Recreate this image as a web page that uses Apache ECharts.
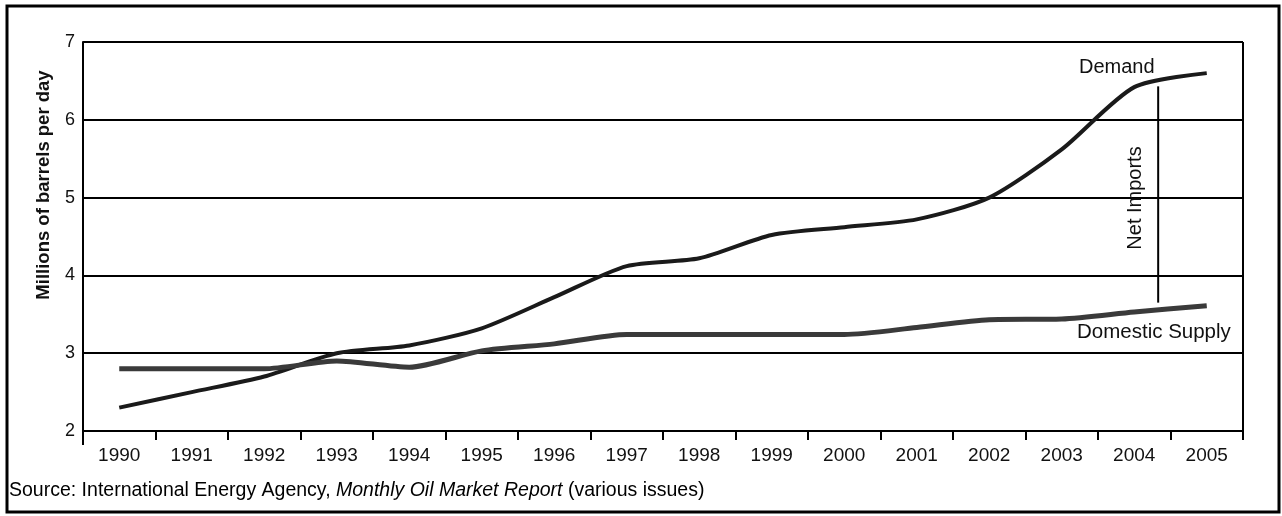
<!DOCTYPE html>
<html><head><meta charset="utf-8">
<script src="https://cdn.jsdelivr.net/npm/echarts@6/dist/echarts.min.js"></script>
<style>html,body{margin:0;padding:0;background:#fff}#c{width:1282px;height:516px}</style>
</head><body><div id="c"></div>
<script>
const years = ['1990','1991','1992','1993','1994','1995','1996','1997','1998','1999','2000','2001','2002','2003','2004','2005'];
const demand = [2.3, 2.5, 2.7, 3.0, 3.1, 3.32, 3.72, 4.12, 4.22, 4.52, 4.62, 4.72, 5.0, 5.62, 6.42, 6.6];
const domesticSupply = [2.8, 2.8, 2.8, 2.9, 2.82, 3.03, 3.12, 3.24, 3.24, 3.24, 3.24, 3.33, 3.43, 3.44, 3.53, 3.61];
const yTicks = [2, 3, 4, 5, 6, 7];
// annotation: Net Imports bracket (x as category index + fraction, y in data units)
const netImportsX = [14.33];
const netImportsRange = [6.43, 3.65];

const FONT = '"Liberation Sans", Arial, sans-serif';
const chart = echarts.init(document.getElementById('c'));
const option = {
  backgroundColor: '#fff',
  animation: false,
  grid: {left: 83, right: 39, top: 42, bottom: 85},
  xAxis: {
    type: 'category', data: years, boundaryGap: true,
    axisLine: {lineStyle: {color: '#000', width: 2}},
    axisTick: {show: true, length: 9, lineStyle: {color: '#000', width: 2}},
    axisLabel: {color: '#111', fontSize: 19, fontFamily: FONT, margin: 15},
    splitLine: {show: false}
  },
  yAxis: {
    type: 'value', min: yTicks[0], max: yTicks[yTicks.length - 1], interval: 1,
    axisLine: {show: true, lineStyle: {color: '#000', width: 2}},
    axisTick: {show: false},
    axisLabel: {color: '#111', fontSize: 18, fontFamily: FONT, margin: 8},
    splitLine: {show: true, lineStyle: {color: '#000', width: 2}}
  },
  series: [
    {name: 'Demand', type: 'line', data: demand, smooth: 0.25, symbol: 'none',
     lineStyle: {color: '#1a1a1a', width: 4}, z: 3},
    {name: 'Domestic Supply', type: 'line', data: domesticSupply, smooth: 0.25, symbol: 'none',
     lineStyle: {color: '#3a3a3a', width: 5}, z: 3}
  ]
};
chart.setOption(option);

function px(xIdx, y) {
  const i = Math.floor(xIdx), f = xIdx - i;
  const a = chart.convertToPixel({gridIndex: 0}, [i, y]);
  const b = chart.convertToPixel({gridIndex: 0}, [Math.min(i + 1, years.length - 1), y]);
  return [a[0] + (b[0] - a[0]) * f, a[1]];
}

function place() {
  const top = px(netImportsX[0], netImportsRange[0]);
  const bot = px(netImportsX[0], netImportsRange[1]);
  const lastD = px(years.length - 1, demand[demand.length - 1]);
  const lastS = px(years.length - 1, domesticSupply[domesticSupply.length - 1]);
  chart.setOption({
    graphic: [
      {type: 'rect', shape: {x: 7, y: 6, width: 1272, height: 506}, style: {fill: 'none', stroke: '#000', lineWidth: 3}, z: 10},
      {type: 'line', shape: {x1: 1243, y1: 42, x2: 1243, y2: 440}, style: {stroke: '#000', lineWidth: 2}, z: 5},
      {type: 'line', shape: {x1: 83, y1: 431, x2: 83, y2: 445}, style: {stroke: '#000', lineWidth: 2}, z: 5},
      {type: 'line', shape: {x1: top[0], y1: top[1], x2: bot[0], y2: bot[1]}, style: {stroke: '#000', lineWidth: 2}, z: 5},
      {type: 'text', x: top[0] - 23, y: 198, rotation: Math.PI / 2,
       style: {text: 'Net Imports', font: '20px ' + FONT, fill: '#111', textAlign: 'center', textVerticalAlign: 'middle'}, z: 6},
      {type: 'text', x: lastD[0] - 90, y: lastD[1] - 6,
       style: {text: 'Demand', font: '20px ' + FONT, fill: '#111', textAlign: 'center', textVerticalAlign: 'middle'}, z: 6},
      {type: 'text', x: 1077, y: lastS[1] + 27,
       style: {text: 'Domestic Supply', font: '20.5px ' + FONT, fill: '#111', textAlign: 'left', textVerticalAlign: 'middle'}, z: 6},
      {type: 'text', x: 44, y: 185, rotation: Math.PI / 2,
       style: {text: 'Millions of barrels per day', font: 'bold 18.5px ' + FONT, fill: '#111', textAlign: 'center', textVerticalAlign: 'middle'}, z: 6},
      {type: 'text', x: 9, y: 491,
       style: {
         text: '{n|Source: International Energy Agency, }{i|Monthly Oil Market Report}{n| (various issues)}',
         rich: {n: {fontSize: 19.5, fontFamily: FONT, color: '#111'}, i: {fontSize: 19.5, fontFamily: FONT, fontStyle: 'italic', color: '#111'}},
         textVerticalAlign: 'middle'}, z: 6}
    ]
  });
}
place();
</script></body></html>
